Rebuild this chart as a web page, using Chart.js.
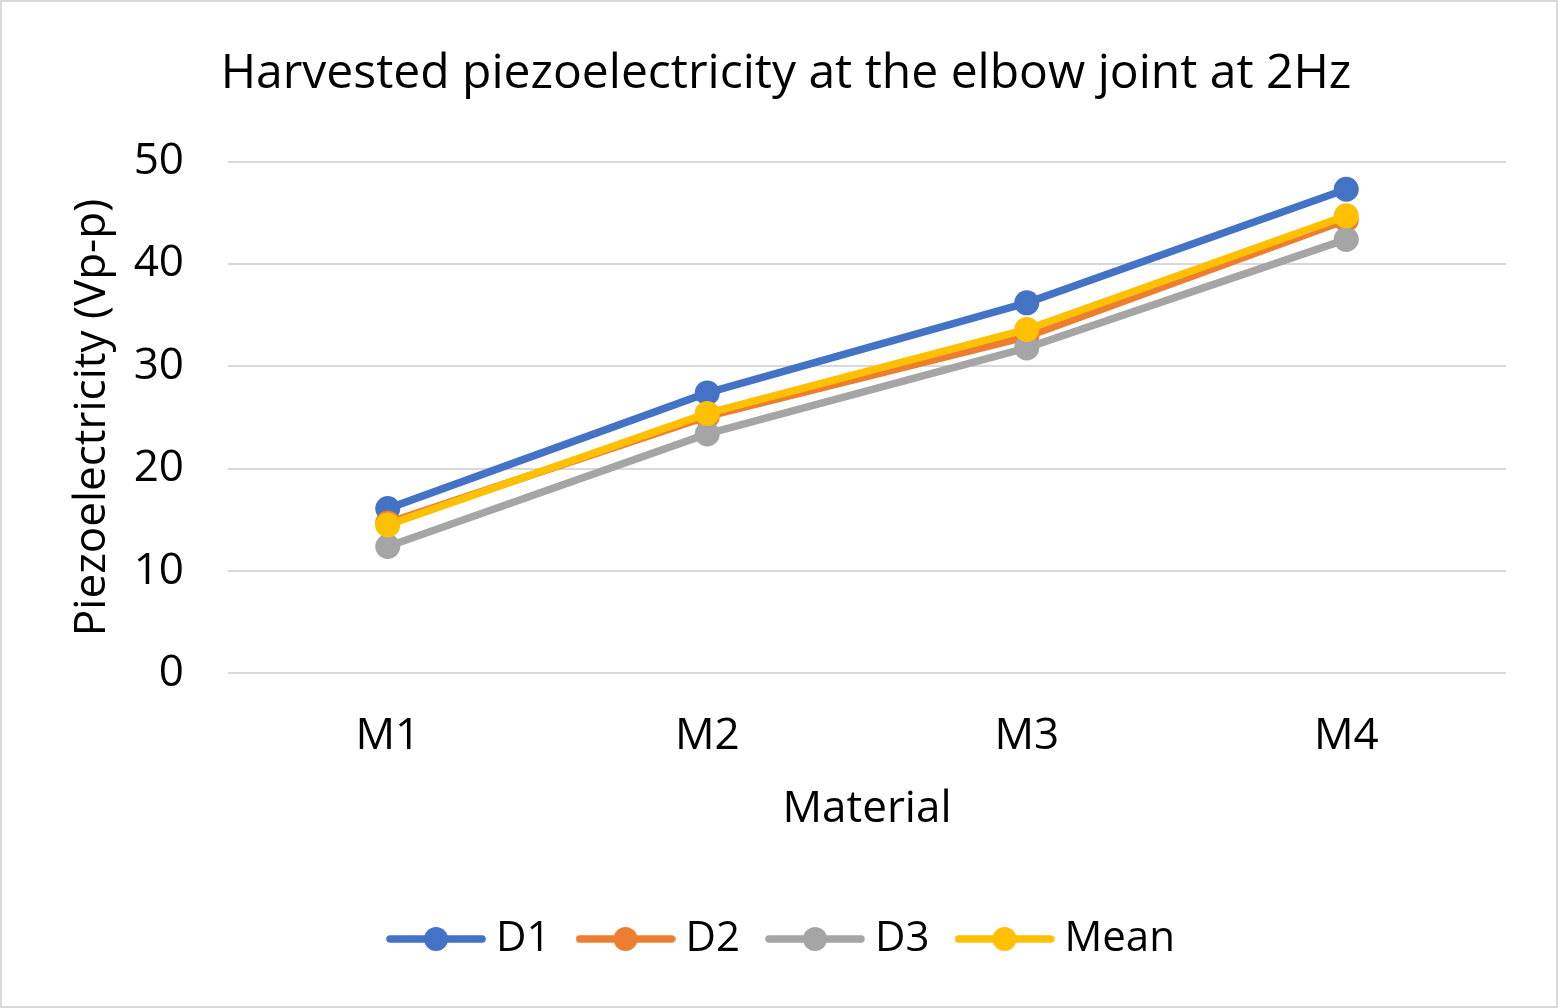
<!DOCTYPE html>
<html>
<head>
<meta charset="utf-8">
<script src="https://cdn.jsdelivr.net/npm/chart.js@4/dist/chart.umd.min.js"></script>
<style>
  html, body { margin: 0; padding: 0; background: #fff; }
  #wrap { position: relative; width: 1558px; height: 1008px; box-sizing: border-box; border: 2px solid #d9d9d9; }
  canvas { display: block; }
</style>
</head>
<body>
<div id="wrap"><canvas id="c" width="1554" height="1004"></canvas></div>
<script>
const categories = ['M1', 'M2', 'M3', 'M4'];
const seriesD1 = [16.1, 27.4, 36.2, 47.3];
const seriesD2 = [14.7, 25.1, 32.9, 44.3];
const seriesD3 = [12.4, 23.4, 31.8, 42.4];
const seriesMean = [14.5, 25.4, 33.6, 44.7];
const yTicks = [0, 10, 20, 30, 40, 50];

const FONT = "'Open Sans', 'Noto Sans', sans-serif";

function legendIcon(color) {
  const cv = document.createElement('canvas');
  cv.width = 100; cv.height = 30;
  const g = cv.getContext('2d');
  g.strokeStyle = color; g.lineWidth = 7.5; g.lineCap = 'round';
  g.beginPath(); g.moveTo(4, 15); g.lineTo(96, 15); g.stroke();
  g.fillStyle = color;
  g.beginPath(); g.arc(50, 15, 12, 0, Math.PI * 2); g.fill();
  return cv;
}

function ds(label, data, color, order) {
  return {
    label, data, order,
    borderColor: color, backgroundColor: color,
    borderWidth: 7.5, pointRadius: 12.5, pointHoverRadius: 12.5,
    pointBorderWidth: 0, pointStyle: 'circle',
    borderCapStyle: 'round', tension: 0
  };
}

const chart = new Chart(document.getElementById('c'), {
  type: 'line',
  data: {
    labels: categories,
    datasets: [
      ds('D1', seriesD1, '#4472c4', 4),
      ds('D2', seriesD2, '#ed7d31', 3),
      ds('D3', seriesD3, '#a5a5a5', 2),
      ds('Mean', seriesMean, '#ffc000', 1)
    ]
  },
  options: {
    responsive: false,
    animation: false,
    devicePixelRatio: 1,
    layout: { padding: { left: 64, right: 50, top: 44, bottom: 36 } },
    plugins: {
      title: {
        display: true,
        text: 'Harvested piezoelectricity at the elbow joint at 2Hz',
        color: '#000',
        font: { family: FONT, size: 48, weight: 'normal' },
        padding: { top: 0, bottom: 58 }
      },
      legend: {
        position: 'bottom',
        sort: (a, b) => a.datasetIndex - b.datasetIndex,
        labels: {
          usePointStyle: true,
          pointStyleWidth: 78,
          boxHeight: 30,
          padding: 36,
          color: '#000',
          font: { family: FONT, size: 42 },
          generateLabels: (ch) => ch.data.datasets.map((d, i) => ({
            text: d.label, datasetIndex: i, pointStyle: legendIcon(d.borderColor),
            fillStyle: d.borderColor, strokeStyle: d.borderColor, lineWidth: 0,
            hidden: false
          }))
        }
      },
      tooltip: { enabled: false }
    },
    scales: {
      x: {
        offset: true,
        grid: { display: false },
        border: { display: false },
        ticks: { color: '#000', font: { family: FONT, size: 44 }, padding: 29 },
        title: { display: true, text: 'Material', color: '#000', font: { family: FONT, size: 44 }, padding: { top: -9, bottom: 46 } }
      },
      y: {
        min: 0, max: 50,
        afterBuildTicks: (s) => { s.ticks = yTicks.map(v => ({ value: v })); },
        afterFit: (s) => { s.width = 162; },
        grid: { color: '#d9d9d9', lineWidth: 2, drawTicks: false },
        border: { display: false },
        ticks: { color: '#000', font: { family: FONT, size: 44 }, padding: 44 },
        title: { display: true, text: 'Piezoelectricity (Vp-p)', color: '#000', font: { family: FONT, size: 44 }, padding: { top: 0, bottom: 10 } }
      }
    }
  }
});
</script>
</body>
</html>
